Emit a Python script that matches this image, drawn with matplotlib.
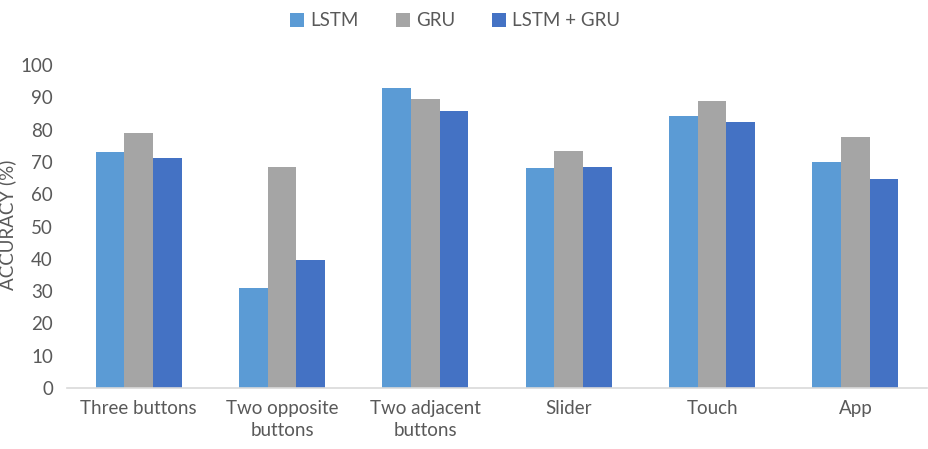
import numpy as np
import matplotlib
matplotlib.use('Agg')
import matplotlib.pyplot as plt

plt.rcParams['font.family'] = ['Lato', 'DejaVu Sans']

categories = ['Three buttons', 'Two opposite\nbuttons', 'Two adjacent\nbuttons', 'Slider', 'Touch', 'App']
lstm = [73.2, 30.9, 92.8, 68.0, 84.2, 70.1]
gru = [79.1, 68.5, 89.4, 73.3, 88.9, 77.6]
lstm_gru = [71.1, 39.6, 85.8, 68.5, 82.3, 64.7]
series_names = ['LSTM', 'GRU', 'LSTM + GRU']
colors = ['#5B9BD5', '#A5A5A5', '#4472C4']
text_color = '#595959'

fig = plt.figure(figsize=(9.29, 4.49), dpi=100)
ax = fig.add_axes([0.072, 0.136, 0.926, 0.719])

x = np.arange(len(categories))
w = 0.2
for i, (vals, name) in enumerate(zip([lstm, gru, lstm_gru], series_names)):
    ax.bar(x + (i - 1) * w, vals, width=w, color=colors[i], label=name)

ax.set_xlim(-0.5, len(categories) - 0.5)
ax.set_ylim(0, 100)
ax.set_yticks(range(0, 101, 10))
ax.set_xticks(x)
ax.set_xticklabels(categories, fontsize=13.5, color=text_color, linespacing=1.35)
ax.tick_params(axis='y', labelsize=13.5, labelcolor=text_color, length=0, pad=10)
ax.tick_params(axis='x', length=0, pad=9)
for s in ['top', 'right', 'left']:
    ax.spines[s].set_visible(False)
ax.spines['bottom'].set_color('#D9D9D9')
ax.spines['bottom'].set_linewidth(1.2)

fig.text(0.008, 0.5, 'ACCURACY (%)', rotation=90, ha='center', va='center',
         fontsize=13.5, color=text_color)

leg = fig.legend(loc='upper center', bbox_to_anchor=(0.49, 1.01), ncol=3, frameon=False,
                 fontsize=13.5, handlelength=0.75, handleheight=0.75, handletextpad=0.3,
                 columnspacing=2.0)
for t in leg.get_texts():
    t.set_color(text_color)

fig.savefig('out.png', dpi=100)
